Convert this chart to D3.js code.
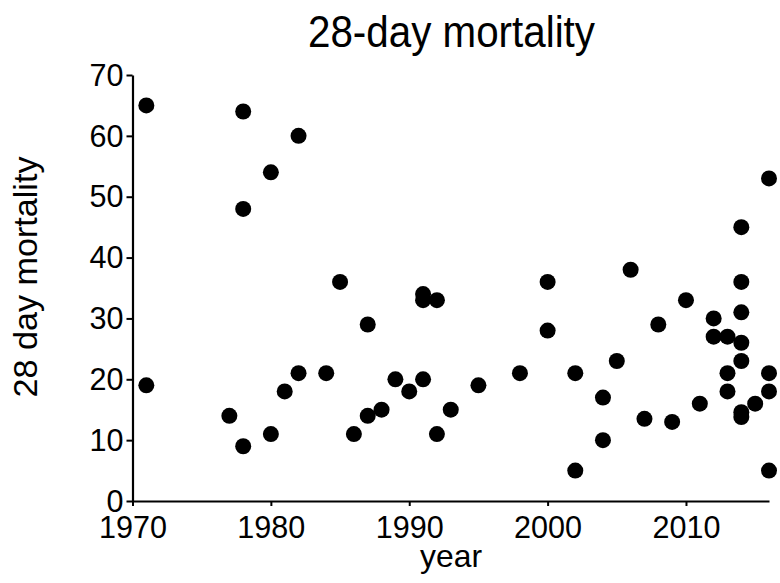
<!DOCTYPE html>
<html>
<head>
<meta charset="utf-8">
<script src="https://cdn.jsdelivr.net/npm/d3@7"></script>
<style>
body{margin:0;background:#fff;}
text{font-family:"Liberation Sans",Arial,sans-serif;fill:#000;}
</style>
</head>
<body>
<div id="chart"></div>
<script>
// data
const years=[1971,1971,1977,1978,1978,1978,1980,1980,1981,1982,1982,1984,1985,1986,1987,1987,1988,1989,1990,1991,1991,1991,1992,1992,1993,1995,1998,2000,2000,2002,2002,2004,2004,2005,2006,2007,2008,2009,2010,2011,2012,2012,2013,2013,2013,2014,2014,2014,2014,2014,2014,2014,2015,2016,2016,2016,2016];
const mortality=[65,19,14,64,48,9,54,11,18,60,21,21,36,11,29,14,15,20,18,34,33,20,33,11,15,19,21,36,28,21,5,17,10,23,38,13.5,29,13,33,16,30,27,27,21,18,45,36,31,26,23,14.6,13.8,16,53,21,18,5];
const xTicks=[1970,1980,1990,2000,2010];
const yTicks=[0,10,20,30,40,50,60,70];

const w=780, h=583;
const m={left:132.5, right:11, top:75, bottom:82};

const svg=d3.select("#chart").append("svg")
    .attr("width",w)
    .attr("height",h);

const x=d3.scaleLinear().domain([1970,2016]).range([m.left,w-m.right]);
const y=d3.scaleLinear().domain([0,70]).range([h-m.bottom,m.top]);

const gx=svg.append("g")
    .attr("transform","translate(0,"+(h-m.bottom)+")")
    .call(d3.axisBottom(x).tickValues(xTicks).tickFormat(d3.format("d")).tickSize(5).tickSizeOuter(0).tickPadding(9));
const gy=svg.append("g")
    .attr("transform","translate("+m.left+",0)")
    .call(d3.axisLeft(y).tickValues(yTicks).tickSize(6).tickSizeOuter(0).tickPadding(3));

// the original font is a bit narrower than Arial, squeeze with textLength
[gx,gy].forEach(function(g){
  g.select(".domain").attr("stroke","#000").attr("stroke-width",2.2);
  g.selectAll(".tick line").attr("stroke","#000").attr("stroke-width",2);
  g.selectAll(".tick text")
    .style("font-size","32px")
    .style("font-family",'"Liberation Sans",Arial,sans-serif')
    .attr("fill","#000")
    .attr("lengthAdjust","spacingAndGlyphs")
    .attr("textLength",function(d){return String(d).length*17;});
});

svg.append("g").selectAll("circle")
    .data(years)
    .join("circle")
    .attr("cx",function(d){return x(d);})
    .attr("cy",function(d,i){return y(mortality[i]);})
    .attr("r",8)
    .attr("fill","#000");

svg.append("text")
    .attr("x",451.5)
    .attr("y",47)
    .attr("text-anchor","middle")
    .attr("lengthAdjust","spacingAndGlyphs")
    .attr("textLength",287)
    .style("font-size","44px")
    .text("28-day mortality");

svg.append("text")
    .attr("x",451)
    .attr("y",567)
    .attr("text-anchor","middle")
    .attr("lengthAdjust","spacingAndGlyphs")
    .attr("textLength",62)
    .style("font-size","32px")
    .text("year");

svg.append("text")
    .attr("transform","translate(37,277) rotate(-90)")
    .attr("text-anchor","middle")
    .attr("lengthAdjust","spacingAndGlyphs")
    .attr("textLength",241)
    .style("font-size","34px")
    .text("28 day mortality");
</script>
</body>
</html>
